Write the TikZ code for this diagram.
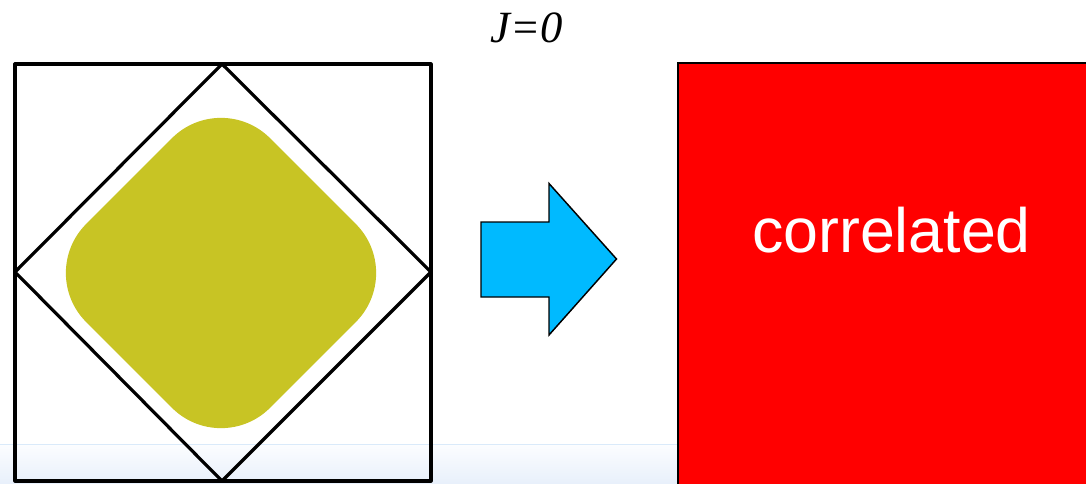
\documentclass[tikz,border=0pt]{standalone}
\usepackage{fontspec}
\newfontfamily\arialfont{Liberation Sans}
\newfontfamily\timesfont{Liberation Serif}
\definecolor{olive}{RGB}{200,196,36}
\definecolor{arrowblue}{RGB}{0,186,255}
\definecolor{bandtop}{RGB}{252,253,255}
\definecolor{bandbot}{RGB}{232,240,251}
\definecolor{bandline}{RGB}{218,234,250}
\tikzset{
  frame/.style={draw=black, line width=2.4pt, line join=round},
  blob/.style={fill=olive, rounded corners=52pt},
  bigarrow/.style={fill=arrowblue, draw=black, line width=1.1pt, line join=miter},
  redbox/.style={fill=red, draw=black, line width=1.4pt},
  label/.style={font=\timesfont\itshape\fontsize{33.5}{38}\selectfont, anchor=base},
  corrtext/.style={font=\arialfont\fontsize{47}{56}\selectfont, text=white, anchor=base}
}
\begin{document}
\begin{tikzpicture}[x=0.75pt,y=-0.75pt]
\useasboundingbox (0,0) rectangle (1086,483);
\clip (0,0) rectangle (1086,483);
\fill[white] (0,0) rectangle (1086,483);
% bottom band
\shade[top color=bandtop, bottom color=bandbot] (0,444) rectangle (1086,483);
\draw[bandline, line width=0.8pt] (0,444.5) -- (1086,444.5);
% olive rounded diamond
\begin{scope}[shift={(221,273)}, rotate=45]
  \fill[blob] (-130,-130) rectangle (130,130);
\end{scope}
% square and diamond
\coordinate (sqtl) at (15,64);
\coordinate (sqbr) at (431,481);
\coordinate (dt) at (222,64);
\coordinate (dl) at (15,272);
\coordinate (db) at (222,481);
\coordinate (dr) at (431,272);
\draw[frame] (sqtl) rectangle (sqbr);
\draw[frame] (dt) -- (dr) -- (db) -- (dl) -- cycle;
% arrow
\draw[bigarrow] (481,222) -- (549,222) -- (549,183.5) -- (616.5,259) -- (549,335) -- (549,297) -- (481,297) -- cycle;
% red box
\draw[redbox] (678,63) rectangle (1100,500);
\node[corrtext] (corr) at (891.5,252.5) {correlated};
% label
\node[label] (jlabel) at (526.5,42) {J=0};
\end{tikzpicture}
\end{document}
